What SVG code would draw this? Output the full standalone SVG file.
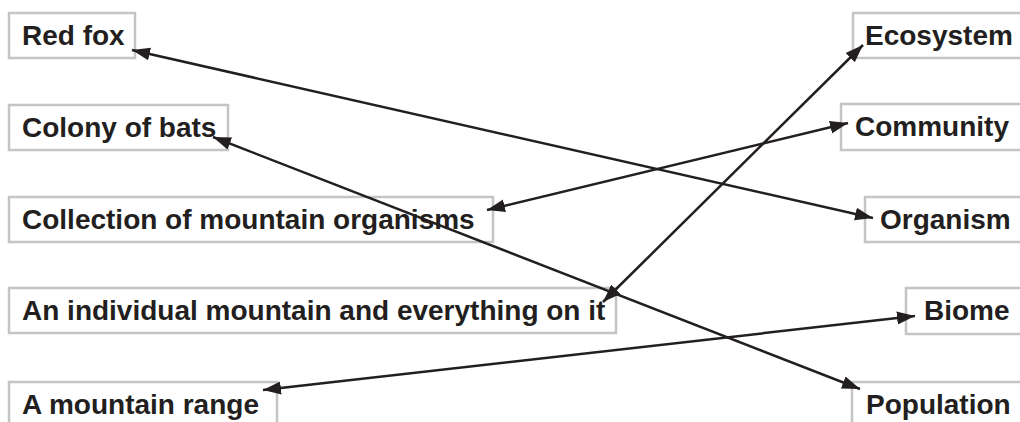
<svg xmlns="http://www.w3.org/2000/svg" width="1020" height="422" viewBox="0 0 1020 422">
<style>
.box{fill:#ffffff;stroke:#c4c4c4;stroke-width:2.5}
.lbl{font-family:"Liberation Sans",Arial,sans-serif;font-weight:bold;font-size:28px;fill:#231f20}
.con{stroke:#231f20;stroke-width:2.5;fill:none;marker-start:url(#ah);marker-end:url(#ah)}
</style>
<defs>
<marker id="ah" markerUnits="userSpaceOnUse" markerWidth="20" markerHeight="14" refX="18" refY="7" orient="auto-start-reverse" viewBox="0 0 20 14">
<path d="M0,0.5 L18,7 L0,13.5 z" fill="#231f20"/>
</marker>
</defs>
<rect width="1020" height="422" fill="#ffffff"/>
<g id="n-redfox"><rect class="box" x="9" y="13" width="126" height="45"/><text class="lbl" x="22" y="45">Red fox</text></g>
<g id="n-colony"><rect class="box" x="9" y="105" width="219" height="45"/><text class="lbl" x="22" y="137">Colony of bats</text></g>
<g id="n-collection"><rect class="box" x="9" y="197" width="484" height="45"/><text class="lbl" x="22" y="229">Collection of mountain organisms</text></g>
<g id="n-individual"><rect class="box" x="9" y="288" width="607" height="45"/><text class="lbl" x="22" y="320">An individual mountain and everything on it</text></g>
<g id="n-range"><rect class="box" x="9" y="382" width="268" height="60"/><text class="lbl" x="22" y="414">A mountain range</text></g>
<g id="n-ecosystem"><rect class="box" x="853" y="13" width="200" height="45"/><text class="lbl" x="865" y="45">Ecosystem</text></g>
<g id="n-community"><rect class="box" x="841" y="104" width="220" height="46"/><text class="lbl" x="855" y="136">Community</text></g>
<g id="n-organism"><rect class="box" x="865" y="197" width="200" height="45"/><text class="lbl" x="880" y="229">Organism</text></g>
<g id="n-biome"><rect class="box" x="906" y="288" width="200" height="46"/><text class="lbl" x="924" y="320">Biome</text></g>
<g id="n-population"><rect class="box" x="852" y="382" width="200" height="60"/><text class="lbl" x="866" y="414">Population</text></g>
<g id="connectors">
<line class="con" x1="132" y1="50" x2="873" y2="218"/>
<line class="con" x1="213" y1="137" x2="860" y2="389"/>
<line class="con" x1="487" y1="210" x2="848" y2="123"/>
<line class="con" x1="603" y1="302" x2="863" y2="45"/>
<line class="con" x1="263" y1="390" x2="915" y2="316"/>
</g>
</svg>
